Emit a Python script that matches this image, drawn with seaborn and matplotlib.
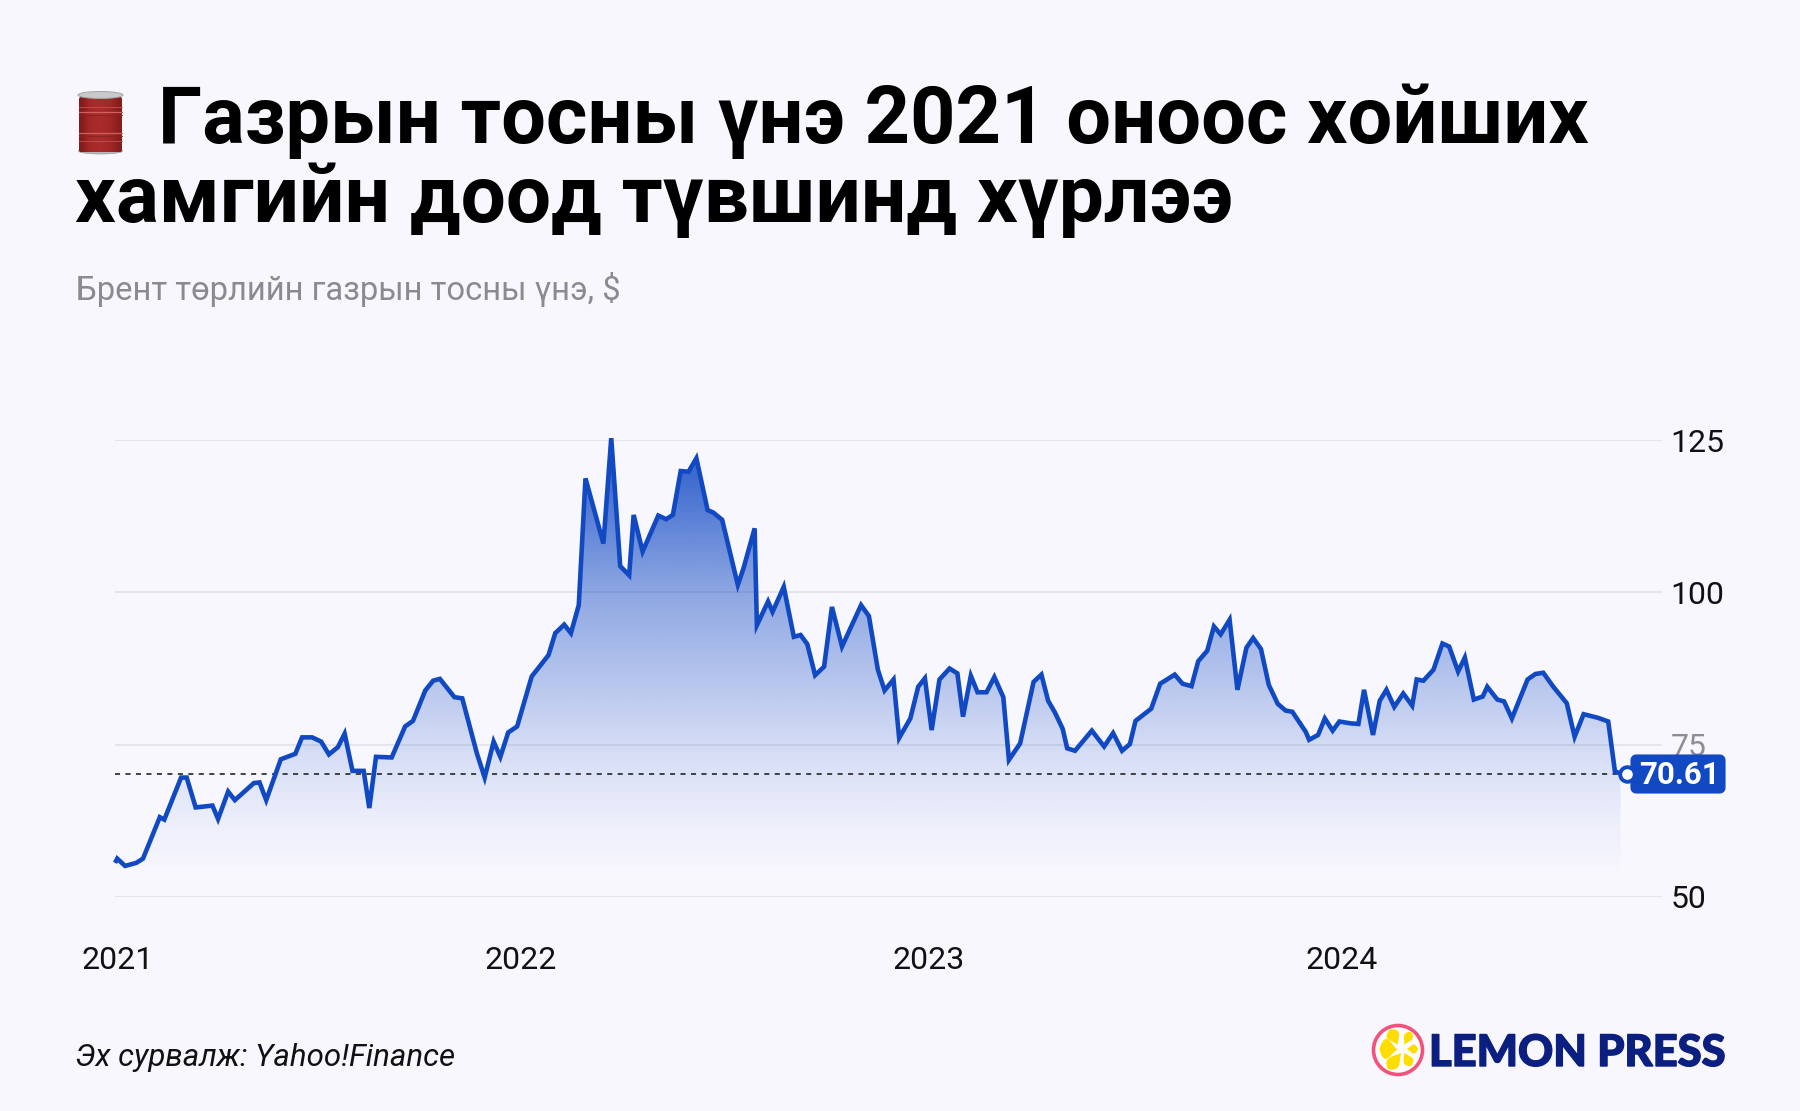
import numpy as np
import pandas as pd
import matplotlib
matplotlib.use("Agg")
import matplotlib.pyplot as plt
import matplotlib.dates as mdates
import matplotlib.patheffects as pe
from matplotlib.patches import Circle, Ellipse, FancyBboxPatch, PathPatch, Polygon
from matplotlib.path import Path
import seaborn as sns

start_date = "2021-01-04"
days = [0, 2, 9, 19, 25, 40, 44, 59, 64, 72, 87, 92, 101, 107, 124, 129, 135, 148, 161, 167,
        176, 184, 191, 199, 205, 212, 222, 227, 233, 247, 259, 266, 277, 284, 290, 303, 310,
        323, 330, 338, 344, 351, 359, 372, 387, 393, 401, 407, 414, 420, 436, 443, 451, 459,
        463, 471, 485, 492, 498, 505, 512, 519, 529, 534, 542, 556, 561, 571, 573, 583, 587,
        597, 606, 612, 618, 625, 633, 640, 649, 666, 673, 681, 687, 695, 700, 710, 717, 723,
        729, 736, 745, 752, 757, 764, 770, 778, 785, 793, 798, 808, 820, 827, 833, 839, 846,
        850, 857, 872, 883, 891, 899, 906, 911, 925, 933, 946, 953, 961, 967, 975, 981, 987,
        995, 1002, 1010, 1016, 1023, 1030, 1038, 1045, 1051, 1063, 1066, 1074, 1080, 1087,
        1093, 1103, 1110, 1115, 1123, 1129, 1135, 1142, 1150, 1158, 1162, 1168, 1177, 1185,
        1191, 1199, 1205, 1213, 1221, 1225, 1234, 1240, 1247, 1261, 1268, 1275, 1284, 1296,
        1303, 1311, 1324, 1333, 1339, 1344, 1350]
prices = [55.6, 56.3, 55.1, 55.6, 56.3, 63.1, 62.7, 69.6, 69.6, 64.7, 65.0, 62.8, 67.3, 65.9,
          68.7, 68.8, 65.9, 72.6, 73.5, 76.2, 76.2, 75.5, 73.4, 74.6, 76.8, 70.7, 70.7, 64.6,
          73.0, 72.9, 78.0, 78.9, 83.9, 85.5, 85.8, 82.8, 82.6, 73.6, 69.6, 75.5, 73.0, 77.0,
          78.0, 86.2, 89.7, 93.3, 94.7, 93.3, 97.9, 118.7, 108.0, 125.3, 104.3, 102.8, 112.7,
          106.7, 112.6, 112.0, 112.7, 119.9, 119.8, 122.0, 113.5, 113.1, 111.9, 101.2, 103.9,
          110.5, 94.6, 98.5, 96.8, 100.9, 92.7, 93.0, 91.5, 86.4, 87.8, 97.6, 91.1, 97.9, 96.1,
          87.3, 83.9, 85.7, 76.1, 79.3, 84.5, 85.9, 77.4, 85.7, 87.5, 86.7, 79.6, 86.3, 83.6,
          83.6, 86.1, 82.8, 72.5, 75.2, 85.3, 86.5, 82.2, 80.3, 77.6, 74.4, 74.0, 77.3, 74.7,
          76.9, 74.0, 75.1, 78.9, 80.9, 85.0, 86.5, 85.0, 84.6, 88.7, 90.4, 94.4, 93.1, 95.5,
          84.0, 90.9, 92.5, 90.7, 84.8, 81.7, 80.6, 80.4, 77.1, 75.8, 76.6, 79.3, 77.3, 78.8,
          78.5, 78.4, 84.0, 76.6, 82.2, 84.0, 81.2, 83.4, 81.4, 85.7, 85.5, 87.3, 91.6, 91.1,
          87.0, 89.3, 82.4, 82.9, 84.5, 82.4, 82.1, 79.3, 85.7, 86.6, 86.8, 84.5, 81.8, 76.3,
          80.0, 79.4, 78.8, 70.6, 70.3, 70.2]
last_label = "70.61"
tick_days = [2, 362, 726, 1095]
tick_labels = ["2021", "2022", "2023", "2024"]
y_ticks = [50, 75, 100, 125]

title_line1 = "Газрын тосны үнэ 2021 оноос хойших"
title_line2 = "хамгийн доод түвшинд хүрлээ"
subtitle = "Брент төрлийн газрын тосны үнэ, $"
source = "Эх сурвалж: Yahoo!Finance"
logo_text = "LEMON PRESS"

BG = "#F8F7FE"
BLUE = "#1149C3"
W, H = 1800, 1111

sns.set_theme(style="white")
plt.rcParams["font.family"] = ["Roboto", "DejaVu Sans"]

df = pd.DataFrame({"date": pd.Timestamp(start_date) + pd.to_timedelta(days, unit="D"), "price": prices})
tick_dates = pd.Timestamp(start_date) + pd.to_timedelta(tick_days, unit="D")

fig = plt.figure(figsize=(W / 100, H / 100), dpi=100, facecolor=BG)
# chart area in pixels of the reference: x 115-1662, y 440-897
ax = fig.add_axes([115 / W, 1 - 897 / H, (1662 - 115) / W, (897 - 440) / H], facecolor=BG)
# overlay in reference pixels for texts, badge and logo
ov = fig.add_axes([0, 0, 1, 1], facecolor="none", zorder=5)
ov.set_xlim(0, W)
ov.set_ylim(H, 0)
ov.axis("off")

x0 = mdates.date2num(df["date"].iloc[0])
ax.grid(axis="y", color="#E2E2E9", lw=1.2, zorder=1)
ax.set_axisbelow(True)

# gradient under the line, it stops just before the last point
xnum = mdates.date2num(df["date"])[:-1]
ynum = np.array(prices[:-1])
verts = [(xnum[0], 50)] + list(zip(xnum, ynum)) + [(xnum[-1], 50), (xnum[0], 50)]
clip = PathPatch(Path(verts), transform=ax.transData, fc="none", ec="none")
ax.add_patch(clip)
levels = np.linspace(126, 50, 300)
alpha = np.interp(levels, [50, 53.5, 62, 75, 100, 120, 126], [0, 0, 0.05, 0.16, 0.46, 0.82, 0.9])
grad = np.zeros((300, 1, 4))
grad[..., :3] = matplotlib.colors.to_rgb(BLUE)
grad[..., 3] = alpha[:, None]
img = ax.imshow(grad, extent=[xnum[0], xnum[-1], 50, 126], aspect="auto", zorder=2, interpolation="bilinear")
img.set_clip_path(clip)

ax.plot([xnum[0], mdates.date2num(df["date"].iloc[-1])], [prices[-1], prices[-1]], color="#333333",
        lw=1.3, dashes=(2.8, 3.0), zorder=3)
sns.lineplot(data=df, x="date", y="price", color=BLUE, lw=3.3, ax=ax, zorder=4, clip_on=False,
             solid_joinstyle="miter", solid_capstyle="butt", errorbar=None)

ax.set_xlim(x0, x0 + 1381)
ax.set_ylim(50, 125)
sns.despine(ax=ax, left=True, bottom=True, right=True, top=True)
ax.set_xlabel("")
ax.set_ylabel("")
ax.set_xticks(tick_dates)
ax.set_xticklabels(tick_labels)
ax.yaxis.tick_right()
ax.set_yticks(y_ticks)
ax.set_yticklabels([str(v) for v in y_ticks])
ax.tick_params(axis="x", length=0, pad=35.5, labelsize=23, labelcolor="#111111")
ax.tick_params(axis="y", length=0, pad=6, labelsize=23, labelcolor="#111111")
ax.get_yticklabels()[1].set_color("#8E8E92")

# value badge sits over the 75 label, the end dot sits over the badge
ax.add_patch(FancyBboxPatch((1636, 760), 84, 28, boxstyle="round,pad=0,rounding_size=0.1",
                            fc=BLUE, ec=BLUE, lw=8, joinstyle="round", zorder=5,
                            transform=ov.transData, clip_on=False))
ax.text(1680, 775, last_label, fontsize=22.5, fontweight="bold", color="white", ha="center", va="center",
        zorder=5.5, transform=ov.transData, clip_on=False)
ax.plot(df["date"].iloc[-1], prices[-1], "o", ms=10.5, mfc="white", mec=BLUE, mew=2.8, zorder=6, clip_on=False)
ax.set_xlim(x0, x0 + 1381)
ax.set_ylim(50, 125)

ov.text(158, 143, title_line1, fontsize=57.2, fontweight="bold", color="black", va="baseline")
ov.text(75, 222, title_line2, fontsize=57.8, fontweight="bold", color="black", va="baseline")
ov.text(76, 300, subtitle, fontsize=23.6, color="#8A8A90", va="baseline")
ov.text(75, 1066, source, fontsize=22.5, style="italic", color="#111111", va="baseline")

# barrel drawn by hand, no colour emoji font available
body = FancyBboxPatch((79, 97), 43, 55, boxstyle="round,pad=0,rounding_size=2", fc="none", ec="none")
ov.add_patch(body)
barrel = np.array([[0.35, 0.55, 0.62, 0.6, 0.5, 0.38]])
red = matplotlib.colors.LinearSegmentedColormap.from_list("red", ["#5E1010", "#A12626", "#B83434"])
im = ov.imshow(barrel, extent=[79, 122, 152, 97], cmap=red, vmin=0.2, vmax=0.8, aspect="auto",
               interpolation="bicubic", zorder=2)
im.set_clip_path(body)
ov.set_xlim(0, W)
ov.set_ylim(H, 0)
ov.add_patch(Ellipse((100.5, 151), 44, 6, fc="#B9B9B9", ec="#9A9A9A", lw=0.5, zorder=1))
ov.add_patch(Ellipse((100.5, 95), 45, 7, fc="#C9C9C9", ec="#A5A5A5", lw=0.7, zorder=3))
for yy, c, w in [(112, "#D06060", 0.9), (115, "#8E2323", 0.7), (133, "#D06060", 0.9),
                 (136, "#8E2323", 0.7), (141, "#C05050", 0.6), (107, "#C05050", 0.6)]:
    ov.plot([79, 122], [yy, yy], color=c, lw=w, zorder=3)


def petal(tip, outer, half_width):
    # teardrop from a pointed tip to a rounded outer end
    tip, outer = np.array(tip, float), np.array(outer, float)
    axis = outer - tip
    normal = np.array([-axis[1], axis[0]]) / np.hypot(*axis)
    s = np.linspace(0, 1, 40)
    hw = half_width * np.sin(np.pi * s ** 1.6) ** 0.8
    upper = tip + s[:, None] * axis + hw[:, None] * normal
    lower = tip + s[:, None] * axis - hw[:, None] * normal
    return np.vstack([upper, lower[::-1]])


# lemon press logo
ov.add_patch(Circle((1398, 1050), 24.5, fc="white", ec="#F2527C", lw=2.6))
petal_shapes = [((1397.5, 1049.5), (1379.5, 1048.5), 10), ((1398, 1045), (1390, 1029.5), 6.5),
                ((1404, 1045), (1411, 1032), 4.5), ((1406.5, 1049), (1418, 1049), 4.5),
                ((1404, 1052.5), (1411, 1066), 5), ((1401.5, 1052.5), (1388, 1069), 6.5)]
for tip, outer, hw in petal_shapes:
    ov.add_patch(Polygon(petal(tip, outer, hw), fc="#FFDD00", ec="none", zorder=3))
ov.text(1429, 1066, logo_text, fontsize=31.3, family="Lato", fontweight="black", color="#0B1F80", va="baseline",
        path_effects=[pe.withStroke(linewidth=1.0, foreground="#0B1F80")])

fig.savefig("out.png", dpi=100, facecolor=BG)
